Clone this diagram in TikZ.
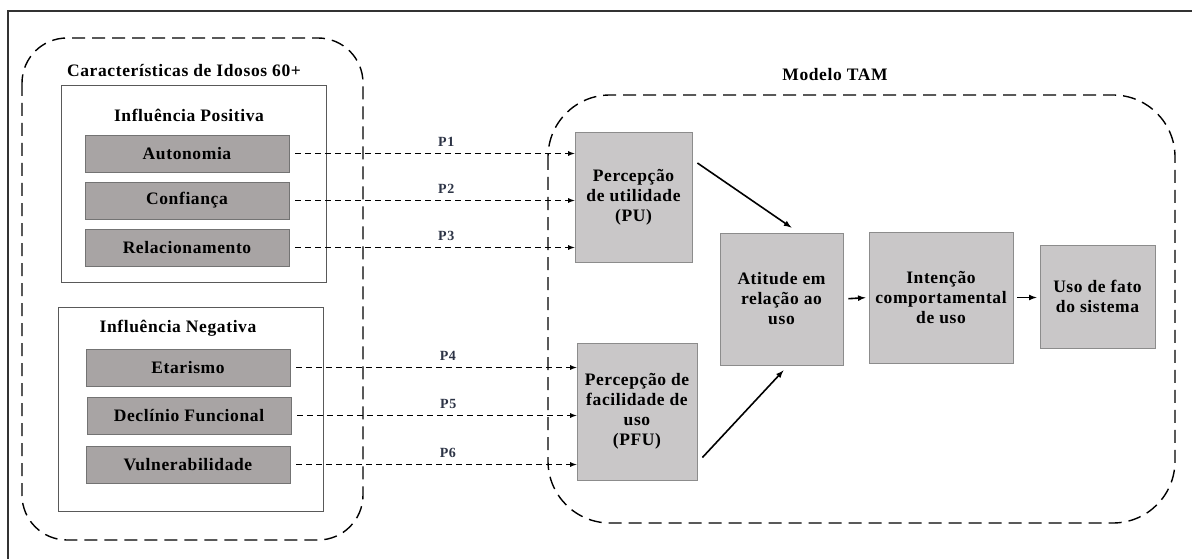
\documentclass[tikz,border=0pt]{standalone}
\usepackage{fontspec}
\setmainfont{Liberation Serif}[LetterSpace=3.5]
\usetikzlibrary{calc,shadows}
\definecolor{boxdark}{RGB}{168,164,164}
\definecolor{boxlight}{RGB}{201,199,200}
\definecolor{plabel}{RGB}{45,52,70}

\begin{document}
\begin{tikzpicture}[x=1pt,y=-1pt,font=\fontsize{17.5}{20}\selectfont\bfseries]
       \tikzstyle{fator} = [rectangle, draw=black!55, line width=0.8pt, fill=boxdark, minimum width=204pt, minimum height=37pt, inner sep=0pt, drop shadow={shadow xshift=0.8pt, shadow yshift=-1.2pt, fill=black!35, opacity=0.5}];
       \tikzstyle{tam} = [rectangle, draw=black!45, line width=0.8pt, fill=boxlight, align=center, inner sep=0pt, drop shadow={shadow xshift=0.8pt, shadow yshift=-1.2pt, fill=black!35, opacity=0.5}];
       \tikzstyle{grupo} = [draw, line width=1.4pt, dash pattern=on 13pt off 7pt];
       \tikzstyle{hip} = [draw, line width=1.2pt, dash pattern=on 6pt off 4pt, -latex, shorten <=6pt];
       \tikzstyle{liga} = [draw, line width=1.6pt, -latex];
       \tikzstyle{rotulo} = [text=plabel, font=\fontsize{14}{16}\selectfont\bfseries, above=3pt, pos=0.55];
       \useasboundingbox (0,0) rectangle (1192,559);

       % moldura
       \draw[line width=1.6pt, black!80] (8,559) -- (8,11) -- (1192,11);

       % caracteristicas de idosos
       \draw[grupo, rounded corners=45pt] (22,38) rectangle (363,540);
       \node(carac) at (184,71) {Características de Idosos 60+};
       \draw[black!65, line width=1pt] (61,86) rectangle (326,282);
       \draw[black!65, line width=1pt] (58,307) rectangle (323,511);
       \node(positiva) at (189,115) {Influência Positiva};
       \node(negativa) at (178,328) {Influência Negativa};

       \node[fator](autonomia) at (187,153.5) {Autonomia};
       \node[fator](confianca) at (187,200.5) {Confiança};
       \node[fator](relac) at (187,247.5) {Relacionamento};
       \node[fator](etarismo) at (188,367.5) {Etarismo};
       \node[fator](declinio) at (189,415.5) {Declínio Funcional};
       \node[fator](vulner) at (188,464.5) {Vulnerabilidade};

       % modelo TAM
       \draw[grupo, rounded corners=62pt] (548,95) rectangle (1175,523);
       \node(modelo) at (835,75) {Modelo TAM};
       \node[tam, minimum width=117pt, minimum height=130pt](pu) at (633.5,197) {Percepção\\de utilidade\\(PU)};
       \node[tam, minimum width=120pt, minimum height=137pt](pfu) at (637,411.5) {Percepção de\\facilidade de\\uso\\(PFU)};
       \node[tam, minimum width=123pt, minimum height=132pt](atitude) at (781.5,299) {Atitude em\\relação ao\\uso};
       \node[tam, minimum width=144pt, minimum height=131pt](intencao) at (941,297.5) {Intenção\\comportamental\\de uso};
       \node[tam, minimum width=115pt, minimum height=103pt](usofato) at (1097.5,296.5) {Uso de fato\\do sistema};

       \draw[hip] (autonomia.east) -- (autonomia.east -| pu.west) node[rotulo]{P1};
       \draw[hip] (confianca.east) -- (confianca.east -| pu.west) node[rotulo]{P2};
       \draw[hip] (relac.east) -- (relac.east -| pu.west) node[rotulo]{P3};
       \draw[hip] (etarismo.east) -- (etarismo.east -| pfu.west) node[rotulo]{P4};
       \draw[hip] (declinio.east) -- (declinio.east -| pfu.west) node[rotulo]{P5};
       \draw[hip] (vulner.east) -- (vulner.east -| pfu.west) node[rotulo]{P6};

       \draw[liga] ([shift={(5pt,34pt)}]pu.east) -- ([shift={(10pt,5pt)}]atitude.north);
       \draw[liga] ([shift={(5pt,-46pt)}]pfu.east) -- ([shift={(2pt,-5pt)}]atitude.south);
       \draw[liga, shorten <=5pt, shorten >=3pt] (atitude.east) -- (intencao.west);
       \draw[liga, shorten <=4pt, shorten >=3pt] (intencao.east) -- (intencao.east -| usofato.west);
\end{tikzpicture}
\end{document}
